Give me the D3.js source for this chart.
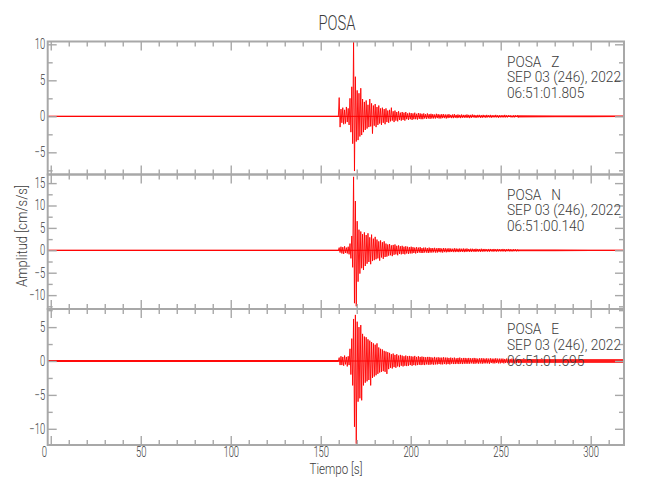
<!DOCTYPE html>
<html><head><meta charset="utf-8">
<script src="https://cdn.jsdelivr.net/npm/d3@7"></script>
<style>
body{margin:0;background:#fff}
svg{display:block}
text{font-family:Roboto,"Liberation Sans",Arial,sans-serif;font-weight:300;fill:#3c3c3c;white-space:pre}
</style>
</head><body><svg id="c" width="650" height="500"></svg>
<script>
// ---------------- data ----------------
const station = "POSA";
const channels = ["Z", "N", "E"];
const startTimes = ["06:51:01.805", "06:51:00.140", "06:51:01.695"];
const dateLabel = "SEP 03 (246), 2022";
const xTitle = "Tiempo [s]";
const yTitle = "Amplitud [cm/s/s]";
const timeTicks = [0, 50, 100, 150, 200, 250, 300];
const timeMinorTicks = d3.range(0, 320, 10);
const zTicks = [-5, 0, 5, 10];
const nTicks = [-10, -5, 0, 5, 10, 15];
const eTicks = [-10, -5, 0, 5];
const timeRange = [-1.7, 318.5];
const zRange = [-8.08, 10.39];
const nRange = [-13.1, 16.92];
const eRange = [-12.39, 7.67];

// per-second envelope (max / min) read from the record, bins start at envStart s
const envStart = 160;
const zMax = [2.6,1.0,1.2,0.9,1.3,1.1,2.5,4.1,10.3,5.5,
  3.6,3.2,3.9,2.4,2.0,2.2,1.6,2.4,1.8,1.5,
  1.7,1.3,1.5,1.1,1.2,1.0,1.1,0.8,0.9,1.2,
  0.7,0.8,0.6,0.7,0.5,0.6,0.5,0.6,0.4,0.5,
  0.45,0.4,0.5,0.35,0.45,0.4,0.35,0.4,0.3,0.4,
  0.3,0.35,0.3,0.25,0.35,0.3,0.25,0.3,0.3,0.25,
  0.25,0.3,0.2,0.25,0.3,0.2,0.25,0.2,0.25,0.2,
  0.2,0.25,0.2,0.2,0.25,0.2,0.15,0.2,0.2,0.15,
  0.2,0.15,0.2,0.15,0.2,0.15,0.15,0.2,0.15,0.15,
  0.15,0.15,0.2,0.15,0.15,0.15,0.1,0.15,0.15,0.15];
const zMin = [-1.5,-0.9,-1.1,-1.0,-0.8,-1.2,-2.2,-3.8,-7.6,-3.5,
  -3.3,-2.8,-2.6,-2.2,-1.9,-1.7,-1.5,-1.4,-2.4,-1.3,
  -1.5,-1.2,-1.0,-1.2,-0.9,-1.1,-0.8,-0.9,-0.7,-0.6,
  -0.8,-0.6,-0.7,-0.5,-0.6,-0.5,-0.6,-0.4,-0.5,-0.4,
  -0.5,-0.4,-0.4,-0.45,-0.35,-0.4,-0.4,-0.3,-0.35,-0.3,
  -0.35,-0.3,-0.3,-0.3,-0.25,-0.3,-0.3,-0.25,-0.25,-0.3,
  -0.25,-0.2,-0.25,-0.25,-0.2,-0.25,-0.2,-0.25,-0.2,-0.2,
  -0.2,-0.2,-0.25,-0.2,-0.15,-0.2,-0.2,-0.15,-0.2,-0.2,
  -0.15,-0.2,-0.15,-0.15,-0.2,-0.15,-0.15,-0.15,-0.2,-0.15,
  -0.15,-0.15,-0.15,-0.15,-0.1,-0.15,-0.15,-0.15,-0.1,-0.15];
const nMax = [0.6,0.8,0.7,0.9,0.6,0.8,1.5,3.2,16.4,11.0,
  6.5,4.6,4.2,3.6,4.0,3.4,3.8,2.9,3.5,2.6,
  3.0,2.4,2.0,2.2,1.8,2.0,1.5,1.3,1.4,1.1,
  1.2,1.3,1.0,1.1,0.9,1.0,0.8,0.9,0.8,0.7,
  0.8,0.7,0.6,0.7,0.6,0.7,0.5,0.6,0.6,0.5,
  0.6,0.5,0.5,0.55,0.45,0.5,0.5,0.4,0.5,0.45,
  0.4,0.45,0.4,0.35,0.45,0.4,0.35,0.4,0.35,0.4,
  0.35,0.4,0.3,0.35,0.35,0.3,0.35,0.3,0.3,0.35,
  0.3,0.3,0.25,0.3,0.3,0.25,0.3,0.25,0.3,0.25,
  0.25,0.3,0.25,0.25,0.3,0.25,0.2,0.25,0.25,0.2];
const nMin = [-0.5,-0.7,-0.8,-0.6,-0.7,-0.9,-1.8,-3.8,-11.8,-12.5,
  -7.0,-5.2,-4.0,-4.4,-3.5,-3.0,-2.6,-3.1,-2.4,-2.2,
  -2.0,-1.8,-2.3,-1.6,-1.9,-1.5,-1.4,-1.2,-1.1,-1.3,
  -1.0,-0.9,-1.1,-0.8,-0.9,-0.8,-0.9,-0.7,-0.8,-0.7,
  -0.7,-0.6,-0.7,-0.6,-0.5,-0.6,-0.6,-0.5,-0.5,-0.6,
  -0.5,-0.5,-0.45,-0.5,-0.5,-0.4,-0.45,-0.5,-0.4,-0.45,
  -0.4,-0.4,-0.35,-0.4,-0.4,-0.35,-0.4,-0.35,-0.35,-0.4,
  -0.35,-0.3,-0.35,-0.35,-0.3,-0.35,-0.3,-0.3,-0.35,-0.3,
  -0.3,-0.25,-0.3,-0.3,-0.25,-0.3,-0.25,-0.3,-0.25,-0.25,
  -0.25,-0.25,-0.3,-0.2,-0.25,-0.25,-0.25,-0.2,-0.25,-0.2];
const eMax = [0.5,0.7,0.6,0.8,0.6,0.7,1.8,3.3,6.2,6.8,
  5.8,5.0,5.3,4.0,3.6,3.5,3.2,3.0,2.8,2.6,
  2.4,2.6,2.0,1.8,1.7,1.5,1.4,1.3,1.2,1.0,
  1.1,0.9,1.0,0.8,0.9,0.8,0.7,0.8,0.7,0.75,
  0.7,0.65,0.75,0.6,0.7,0.6,0.65,0.6,0.55,0.6,
  0.6,0.55,0.5,0.6,0.5,0.55,0.5,0.5,0.55,0.5,
  0.5,0.45,0.5,0.45,0.5,0.4,0.45,0.5,0.4,0.45,
  0.45,0.4,0.45,0.4,0.4,0.45,0.4,0.35,0.4,0.4,
  0.4,0.35,0.4,0.35,0.4,0.35,0.35,0.4,0.35,0.35,
  0.35,0.35,0.3,0.35,0.35,0.3,0.35,0.3,0.35,0.3];
const eMin = [-0.6,-0.6,-0.7,-0.5,-0.8,-0.6,-2.0,-3.6,-9.7,-12.2,
  -6.0,-5.5,-5.8,-3.6,-3.2,-3.0,-2.8,-3.6,-2.5,-2.3,
  -2.1,-1.9,-1.7,-1.6,-1.5,-1.6,-1.9,-1.2,-1.0,-1.1,
  -0.9,-1.0,-0.8,-0.9,-0.7,-0.8,-0.7,-0.75,-0.7,-0.6,
  -0.7,-0.6,-0.65,-0.6,-0.55,-0.6,-0.55,-0.6,-0.5,-0.55,
  -0.55,-0.5,-0.55,-0.5,-0.5,-0.45,-0.5,-0.5,-0.45,-0.5,
  -0.45,-0.5,-0.4,-0.45,-0.45,-0.4,-0.45,-0.4,-0.45,-0.4,
  -0.4,-0.4,-0.4,-0.35,-0.4,-0.4,-0.35,-0.4,-0.35,-0.4,
  -0.35,-0.35,-0.35,-0.4,-0.3,-0.35,-0.35,-0.3,-0.35,-0.35,
  -0.3,-0.35,-0.3,-0.3,-0.35,-0.3,-0.3,-0.35,-0.3,-0.3];
// background noise amplitude before the arrival and in the coda tail
const preNoise = [0.06, 0.08, 0.14];
const tailTimes = [260, 280, 300, 318.5];
const zTail = [0.15, 0.12, 0.12, 0.1];
const nTail = [0.2, 0.2, 0.15, 0.15];
const eTail = [0.3, 0.3, 0.28, 0.28];

// ---------------- layout ----------------
const svg = d3.select("#c");
const X0 = 47.7, X1 = 624;
const panelTops = [41.5, 174.5, 309], panelBottoms = [174.5, 309, 445];
const x = d3.scaleLinear().domain(timeRange).range([X0, X1]);
const panels = [
  {ch: channels[0], t0: startTimes[0], ticks: zTicks, range: zRange, max: zMax, min: zMin, tail: zTail, noise: preNoise[0]},
  {ch: channels[1], t0: startTimes[1], ticks: nTicks, range: nRange, max: nMax, min: nMin, tail: nTail, noise: preNoise[1]},
  {ch: channels[2], t0: startTimes[2], ticks: eTicks, range: eRange, max: eMax, min: eMin, tail: eTail, noise: preNoise[2]}
];
const AX = "#a8a8a8";
function styleAxis(g) {
  g.select(".domain").remove();
  g.selectAll(".tick line").attr("stroke", AX).attr("stroke-width", 1.4);
}
function fitFactor(sample, size, target) {
  const t = svg.append("text").attr("font-size", size).text(sample);
  const w = t.node().getComputedTextLength();
  t.remove();
  return target / w;
}
function condense(sel, f) {
  sel.each(function () {
    const w = this.getComputedTextLength();
    d3.select(this).attr("textLength", w * f).attr("lengthAdjust", "spacingAndGlyphs");
  });
}

panels.forEach((p, i) => {
  const top = panelTops[i], bot = panelBottoms[i];
  const y = d3.scaleLinear().domain(p.range).range([bot, top]);
  const clipId = "clip" + i;
  svg.append("clipPath").attr("id", clipId).append("rect")
    .attr("x", X0).attr("y", top).attr("width", X1 - X0).attr("height", bot - top);
  const wave = svg.append("g").attr("clip-path", `url(#${clipId})`);

  // pre-event noise band and coda tail band
  const band = d3.area().x(d => x(d[0])).y0(d => y(-d[1])).y1(d => y(d[1]));
  wave.append("path").datum([[timeRange[0], p.noise], [envStart, p.noise]])
    .attr("d", band).attr("fill", "#ff0000").attr("opacity", 0.85);
  const tailPts = tailTimes.map((t, k) => [t, p.tail[k]]);
  wave.append("path").datum([[envStart + p.max.length - 0.5, p.tail[0]], ...tailPts])
    .attr("d", band).attr("fill", "#ff0000").attr("opacity", 0.8);
  wave.append("line").attr("x1", X0).attr("x2", X1).attr("y1", y(0)).attr("y2", y(0))
    .attr("stroke", "#ff0000").attr("stroke-width", 1);

  // waveform trace: within each 1-s bin go to the max, then to the min
  const pts = [[timeRange[0], 0], [envStart - 0.2, 0]];
  p.max.forEach((v, k) => {
    pts.push([envStart + k + 0.25, v]);
    pts.push([envStart + k + 0.75, p.min[k]]);
  });
  pts.push([envStart + p.max.length + 0.2, 0]);
  wave.append("path").datum(pts)
    .attr("d", d3.line().x(d => x(d[0])).y(d => y(d[1])))
    .attr("fill", "none").attr("stroke", "#ff0000").attr("stroke-width", 0.9);

  // axes: ticks point inward on all four sides
  const minorY = d3.range(-20, 20.01, 2.5).filter(v => v >= p.range[0] && v <= p.range[1] && !p.ticks.includes(v));
  svg.append("g").attr("transform", `translate(${X0},0)`)
    .call(d3.axisLeft(y).tickValues(p.ticks).tickSizeInner(-9).tickSizeOuter(0).tickPadding(2.5).tickFormat(d3.format("d")))
    .call(styleAxis).attr("class", "ylab");
  svg.append("g").attr("transform", `translate(${X0},0)`)
    .call(d3.axisLeft(y).tickValues(minorY).tickSize(-5).tickFormat("")).call(styleAxis);
  svg.append("g").attr("transform", `translate(${X1},0)`)
    .call(d3.axisRight(y).tickValues(p.ticks).tickSize(-9).tickFormat("")).call(styleAxis);
  svg.append("g").attr("transform", `translate(${X1},0)`)
    .call(d3.axisRight(y).tickValues(minorY).tickSize(-5).tickFormat("")).call(styleAxis);

  const minorX = timeMinorTicks.filter(v => !timeTicks.includes(v));
  svg.append("g").attr("transform", `translate(0,${top})`)
    .call(d3.axisTop(x).tickValues(timeTicks).tickSize(-9).tickFormat("")).call(styleAxis);
  svg.append("g").attr("transform", `translate(0,${top})`)
    .call(d3.axisTop(x).tickValues(minorX).tickSize(-5).tickFormat("")).call(styleAxis);
  svg.append("g").attr("transform", `translate(0,${bot})`)
    .call(d3.axisBottom(x).tickValues(timeTicks).tickSize(-9).tickPadding(2.5)
      .tickFormat(i === 2 ? d3.format("d") : "")).call(styleAxis).attr("class", "xlab");
  svg.append("g").attr("transform", `translate(0,${bot})`)
    .call(d3.axisBottom(x).tickValues(minorX).tickSize(-5).tickFormat("")).call(styleAxis);

  // frame
  svg.append("rect").attr("x", X0).attr("y", top).attr("width", X1 - X0).attr("height", bot - top)
    .attr("fill", "none").attr("stroke", AX).attr("stroke-width", 2);

  // station / date / start-time label
  const info = svg.append("g").attr("class", "info");
  [`${station}   ${p.ch}`, dateLabel, p.t0].forEach((s, k) => {
    info.append("text").attr("x", 507).attr("y", top + 25 + k * 15.8).attr("font-size", 14).text(s);
  });
});

svg.selectAll(".ylab text, .xlab text").attr("font-size", 14).attr("fill", null);
condense(svg.selectAll(".ylab text, .xlab text"), fitFactor("150", 14, 15.7));
svg.selectAll(".xlab text").filter(d => d === 0).attr("dx", -7);
condense(svg.selectAll(".info text"), fitFactor(dateLabel, 14, 114));

svg.append("text").attr("x", 337).attr("y", 30).attr("text-anchor", "middle")
  .attr("font-size", 20).attr("textLength", 37).attr("lengthAdjust", "spacingAndGlyphs").text(station);
svg.append("text").attr("x", 336).attr("y", 474).attr("text-anchor", "middle")
  .attr("font-size", 14).attr("textLength", 53).attr("lengthAdjust", "spacingAndGlyphs").text(xTitle);
svg.append("text").attr("transform", "translate(27,236) rotate(-90)").attr("text-anchor", "middle")
  .attr("font-size", 14).attr("textLength", 102).attr("lengthAdjust", "spacingAndGlyphs").text(yTitle);
</script>
</body></html>
